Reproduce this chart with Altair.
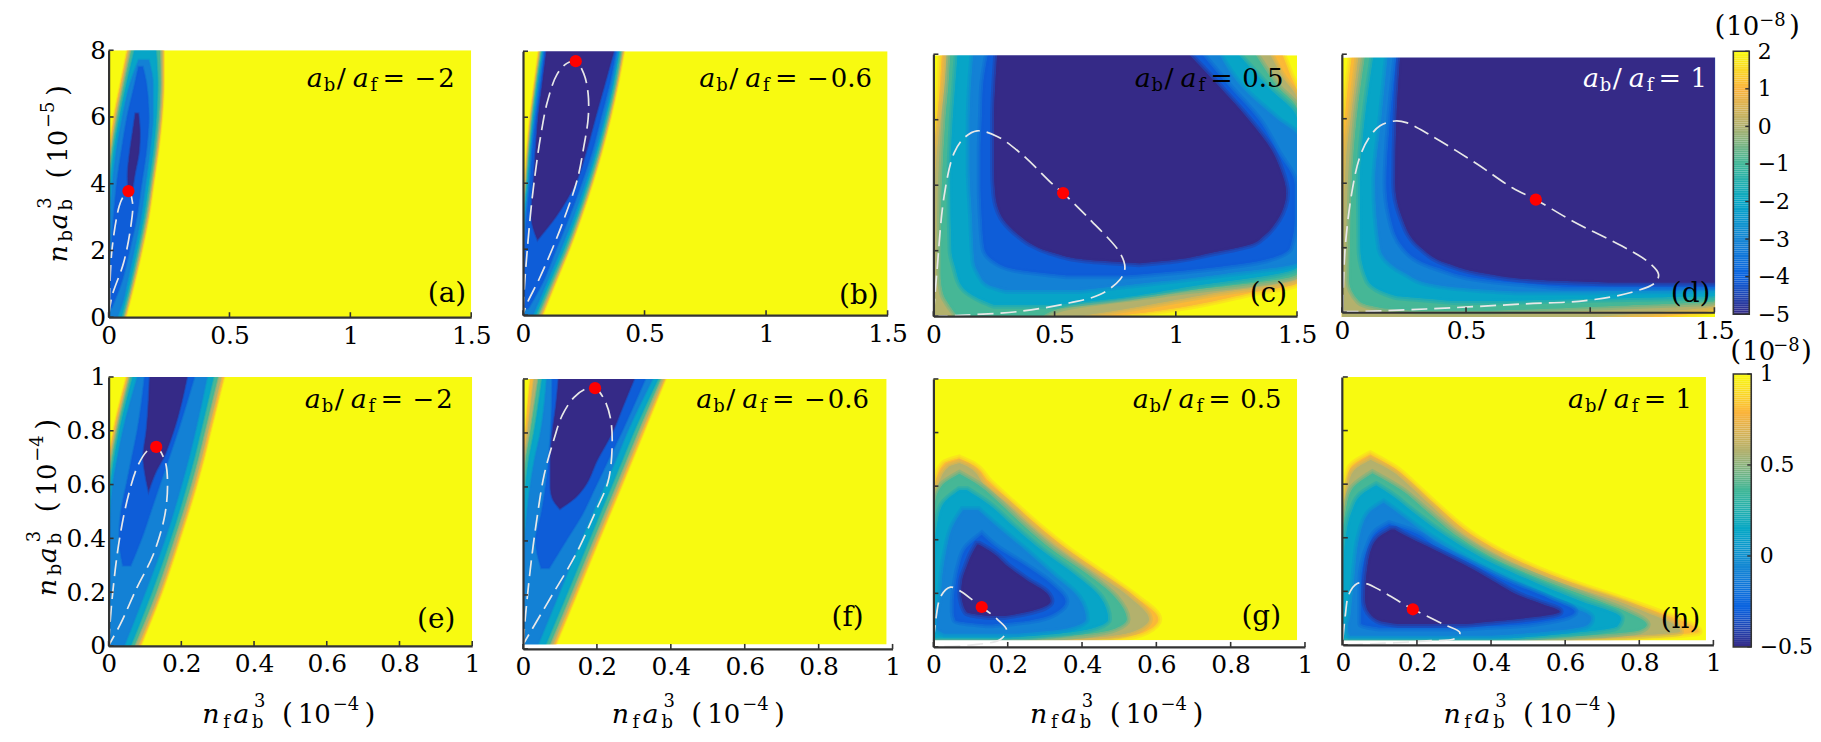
import altair as alt
import numpy as np
import pandas as pd

FILLS = [0.87, 0.72, 0.58, 0.42, 0.27, 0.13, 0.0]
STOPS = [0, 1/7, 2/7, 3/7, 4/7, 5/7, 6/7, 1]
COLORS = ["#352a87", "#0a62e0", "#1485d4", "#06a7c6", "#3fb798", "#b0b16f", "#fbb33b", "#f9fb12"]
YELLOW = "#f8fa10"

# contour tables: each contour is a list of (y, x_left, x_right), outermost first
A = [
 [(0,0,.07),(1,0,.105),(2,0,.137),(3,0,.165),(4,0,.185),(5,.005,.205),(6,.023,.22),(7,.05,.227),(8,.078,.227)],
 [(0,0,.065),(1,0,.1),(2,0,.132),(3,0,.16),(4,0,.18),(5,.01,.2),(6,.03,.215),(7,.057,.222),(8,.085,.222)],
 [(0,0,.06),(1,0,.094),(2,0,.125),(3,0,.153),(4,.003,.174),(5,.015,.193),(6,.037,.207),(7,.065,.214),(8,.095,.212)],
 [(0,0,.052),(1,0,.087),(2,0,.117),(3,.002,.145),(4,.008,.165),(5,.022,.184),(6,.046,.197),(7,.075,.202),(8,.108,.195)],
 [(0,0,.035),(.5,0,.06),(1,0,.075),(2,.002,.105),(3,.008,.133),(4,.017,.152),(5,.033,.17),(6,.058,.182),(7,.09,.182),(7.7,.125,.165)],
 [(.3,.005,.012),(1,.006,.05),(2,.012,.085),(3,.022,.115),(4,.035,.135),(5,.055,.155),(6,.078,.165),(7,.11,.155),(7.5,.125,.14)],
 [(3.7,.085,.095),(4.2,.08,.105),(5,.09,.125),(5.5,.1,.128),(6.1,.112,.122)],
]
B = [
 [(0,0,.079),(1,0,.134),(2,0,.19),(3,0,.24),(4,.008,.285),(5,.017,.325),(6,.03,.36),(7,.047,.39),(8,.065,.415)],
 [(0,0,.072),(1,0,.128),(2,0,.185),(3,0,.235),(4,.011,.28),(5,.021,.32),(6,.034,.355),(7,.051,.385),(8,.07,.41)],
 [(0,0,.062),(1,0,.12),(2,0,.178),(3,.003,.228),(4,.015,.274),(5,.025,.314),(6,.038,.349),(7,.055,.38),(8,.075,.404)],
 [(0,0,.052),(1,0,.11),(2,0,.168),(3,.006,.22),(4,.019,.265),(5,.03,.306),(6,.043,.341),(7,.06,.372),(8,.08,.396)],
 [(0,0,.04),(1,0,.097),(2,.002,.155),(3,.01,.208),(4,.024,.255),(5,.034,.297),(6,.048,.333),(7,.065,.365),(8,.085,.39)],
 [(.2,.003,.02),(1,.004,.08),(2,.008,.135),(3,.016,.19),(4,.03,.24),(5,.04,.285),(6,.054,.32),(7,.072,.355),(8,.09,.382)],
 [(2.3,.06,.06),(3,.035,.135),(4,.044,.215),(5,.053,.26),(6,.063,.297),(7,.08,.335),(8,.097,.373)],
]
C = [
 [(0,0,.75),(.3,0,1.04),(.7,0,1.3),(1.02,0,1.5),(4,0,1.5),(5,.003,1.5),(6,.015,1.5),(6.8,.025,1.5),(7.4,.03,1.47),(7.97,.035,1.44)],
 [(0,0,.6),(.3,0,.85),(.7,0,1.15),(1.15,0,1.5),(2,0,1.5),(3,.001,1.5),(4,.006,1.5),(5,.015,1.5),(6,.03,1.5),(6.6,.04,1.5),(7.3,.05,1.44),(7.97,.055,1.39)],
 [(0,.1,.45),(.3,.07,.55),(.7,.04,.95),(1.3,.03,1.5),(2,.03,1.5),(4,.035,1.5),(6,.05,1.5),(6.3,.053,1.5),(7,.062,1.42),(7.97,.07,1.33)],
 [(.35,.25,.5),(.5,.2,.7),(.9,.12,1.05),(1.5,.09,1.5),(2,.075,1.5),(4,.07,1.5),(6,.08,1.5),(7,.09,1.38),(7.97,.1,1.26)],
 [(.8,.3,.6),(1,.22,.85),(1.3,.19,1.2),(1.65,.17,1.5),(3,.16,1.5),(4.5,.15,1.5),(5.5,.15,1.5),(6,.15,1.42),(7,.155,1.27),(7.97,.165,1.18)],
 [(1.25,.55,.8),(1.45,.33,1.1),(1.7,.25,1.35),(2.1,.21,1.47),(3,.2,1.49),(4,.195,1.49),(5,.195,1.42),(6,.2,1.34),(7,.205,1.22),(7.97,.225,1.11)],
 [(1.62,.85,.85),(1.73,.63,1.0),(1.93,.5,1.14),(2.23,.4,1.32),(2.44,.36,1.36),(2.95,.29,1.42),(3.35,.265,1.445),(3.76,.255,1.455),(4.5,.25,1.43),(5,.25,1.4),(6,.25,1.3),(7,.255,1.18),(7.97,.263,1.057)],
]
D = [
 [(-.15,0,1.27),(-.05,0,1.4),(.1,0,1.5),(4,0,1.5),(5,.003,1.5),(6,.012,1.5),(7.9,.04,1.5)],
 [(-.15,0,1.0),(0,0,1.25),(.2,0,1.5),(1,0,1.5),(3,.007,1.5),(4,.013,1.5),(5,.02,1.5),(6,.036,1.5),(7.9,.067,1.5)],
 [(.05,.3,.6),(.1,.2,.8),(.2,.12,1.1),(.35,.07,1.5),(1,.03,1.5),(2,.033,1.5),(4,.04,1.5),(6,.06,1.5),(7.9,.093,1.5)],
 [(.35,.45,.6),(.45,.3,1.2),(.5,.22,1.5),(1,.105,1.5),(2,.075,1.5),(4,.073,1.5),(6,.093,1.5),(7.9,.127,1.5)],
 [(.65,.7,1.0),(.72,.55,1.5),(.9,.35,1.5),(1.2,.26,1.5),(2,.155,1.5),(4,.135,1.5),(6,.16,1.5),(7.9,.185,1.5)],
 [(.8,.9,1.5),(1,.6,1.5),(1.4,.38,1.5),(2,.25,1.5),(3,.195,1.5),(4,.18,1.5),(6,.195,1.5),(7.9,.22,1.5)],
 [(.92,1.1,1.5),(1,.8,1.5),(1.2,.58,1.5),(1.5,.43,1.5),(2,.32,1.5),(3,.24,1.5),(4,.215,1.5),(6,.22,1.5),(7.9,.235,1.5)],
]
E = [
 [(0,0,.087),(.2,0,.146),(.4,0,.196),(.6,0,.242),(.7,.002,.262),(.8,.014,.28),(1,.05,.317)],
 [(0,0,.08),(.2,0,.14),(.4,0,.19),(.6,0,.235),(.7,.005,.255),(.8,.019,.273),(1,.055,.31)],
 [(0,0,.07),(.2,0,.13),(.4,0,.18),(.6,.002,.226),(.7,.01,.246),(.8,.024,.264),(1,.06,.3)],
 [(0,0,.06),(.2,0,.118),(.4,0,.17),(.6,.006,.215),(.7,.016,.235),(.8,.03,.253),(1,.067,.288)],
 [(0,0,.042),(.2,0,.1),(.4,.003,.155),(.6,.012,.2),(.7,.025,.22),(.8,.04,.238),(1,.08,.27)],
 [(.3,.04,.06),(.4,.03,.09),(.5,.035,.115),(.6,.05,.14),(.7,.065,.165),(.8,.08,.19),(1,.1,.235)],
 [(.58,.11,.11),(.65,.1,.13),(.7,.096,.15),(.8,.105,.178),(1,.114,.215)],
]
F = [
 [(.016,0,.088),(.2,0,.144),(.4,0,.204),(.6,0,.265),(.7,0,.295),(.8,.006,.325),(1,.02,.385)],
 [(.016,0,.081),(.2,0,.137),(.4,0,.197),(.6,0,.258),(.7,.003,.288),(.8,.012,.318),(1,.03,.38)],
 [(.016,0,.072),(.2,0,.128),(.4,0,.188),(.6,.002,.249),(.7,.008,.279),(.8,.02,.309),(1,.042,.372)],
 [(.016,0,.061),(.2,0,.117),(.4,0,.177),(.6,.007,.238),(.7,.016,.268),(.8,.03,.298),(1,.052,.365)],
 [(.016,0,.04),(.2,0,.095),(.4,.005,.155),(.6,.02,.218),(.7,.032,.25),(.8,.048,.28),(1,.065,.35)],
 [(.3,.05,.07),(.4,.035,.115),(.5,.05,.16),(.6,.062,.195),(.7,.07,.23),(.8,.076,.265),(1,.08,.33)],
 [(.52,.1,.1),(.56,.08,.14),(.6,.075,.165),(.7,.075,.2),(.8,.08,.24),(.9,.09,.27),(1,.097,.3)],
]
G = [
 [(.025,0,.41),(.035,0,.5),(.06,0,.574),(.103,0,.605),(.183,0,.547),(.27,0,.458),(.356,0,.368),(.455,0,.279),(.54,0,.21),(.616,.006,.15),(.684,.029,.1),(.703,.069,.069)],
 [(.025,0,.34),(.04,0,.47),(.065,0,.55),(.103,0,.58),(.183,0,.53),(.27,0,.44),(.356,0,.35),(.455,0,.262),(.54,0,.195),(.6,.012,.14),(.67,.04,.095),(.685,.07,.07)],
 [(.03,0,.25),(.05,0,.42),(.07,0,.49),(.103,0,.52),(.183,0,.49),(.27,0,.415),(.356,0,.325),(.455,0,.24),(.54,.005,.175),(.6,.022,.125),(.645,.07,.07)],
 [(.035,0,.2),(.05,0,.34),(.075,0,.44),(.103,0,.47),(.183,0,.45),(.27,0,.38),(.356,.002,.295),(.455,.01,.21),(.53,.025,.15),(.585,.07,.09)],
 [(.05,.03,.22),(.07,.01,.36),(.103,.01,.41),(.183,.02,.39),(.27,.025,.32),(.356,.035,.25),(.455,.055,.165),(.51,.08,.12)],
 [(.085,.14,.16),(.1,.06,.26),(.13,.055,.33),(.17,.055,.355),(.23,.06,.32),(.3,.07,.25),(.37,.09,.17),(.418,.13,.13)],
 [(.115,.15,.19),(.13,.09,.25),(.17,.078,.315),(.2,.075,.305),(.25,.078,.25),(.3,.09,.2),(.35,.105,.16),(.381,.118,.122)],
]
H = [
 [(.017,0,.6),(.03,0,.78),(.05,0,.96),(.07,0,.944),(.12,0,.854),(.164,0,.764),(.226,0,.63),(.3,0,.495),(.399,0,.361),(.523,.003,.25),(.6,.01,.19),(.659,.02,.14),(.711,.074,.074)],
 [(.017,0,.55),(.03,0,.72),(.05,0,.91),(.07,0,.9),(.12,0,.82),(.164,0,.74),(.226,0,.6),(.3,0,.47),(.399,0,.34),(.523,.006,.235),(.6,.015,.175),(.65,.03,.13),(.69,.075,.075)],
 [(.02,0,.45),(.035,0,.65),(.055,0,.8),(.075,0,.82),(.12,0,.77),(.164,0,.69),(.226,0,.57),(.3,0,.44),(.399,0,.315),(.5,.008,.225),(.58,.025,.155),(.64,.08,.08)],
 [(.025,0,.45),(.045,0,.62),(.07,0,.74),(.1,0,.75),(.164,0,.64),(.226,0,.53),(.3,.002,.41),(.399,.008,.285),(.5,.025,.185),(.56,.05,.13),(.595,.09,.09)],
 [(.035,.02,.4),(.05,.015,.55),(.075,.015,.66),(.1,.02,.67),(.164,.025,.57),(.226,.03,.47),(.3,.035,.36),(.399,.045,.24),(.49,.07,.15),(.53,.11,.11)],
 [(.065,.1,.3),(.08,.05,.5),(.124,.05,.625),(.17,.05,.56),(.238,.05,.44),(.3,.055,.35),(.368,.07,.25),(.42,.09,.19),(.45,.125,.125)],
 [(.078,.15,.33),(.09,.1,.42),(.124,.07,.585),(.151,.062,.54),(.176,.06,.49),(.238,.062,.406),(.275,.065,.36),(.368,.08,.227),(.41,.105,.165),(.43,.13,.14)],
]

# white dashed curves
CURVE_A = [(.003,.4),(.014,2.03),(.044,3.33),(.062,3.63),(.082,3.78),(.099,3.43),(.092,2.73),(.062,1.63),(.014,.63),(0,.03)]
CURVE_B = [(0,.08),(.008,1.09),(.03,3),(.045,4),(.072,5.4),(.1,6.46),(.14,7.3),(.182,7.64),(.217,7.7),(.25,7.32),(.268,6.71),(.268,5.96),(.25,5.1),(.223,4.1),(.168,2.9),(.12,2),(.066,1.09),(.018,.38),(0,.03)]
CURVE_C = [(0,.05),(.014,1.32),(.044,3.66),(.085,4.98),(.126,5.44),(.18,5.66),(.263,5.49),(.359,4.98),(.495,4.01),(.535,3.76),(.646,2.95),(.77,1.93),(.79,1.47),(.77,1.12),(.687,.66),(.564,.41),(.359,.15),(.11,.03),(0,0)]
CURVE_D = [(.004,.05),(.013,1.95),(.04,3.7),(.073,4.83),(.113,5.45),(.154,5.78),(.214,5.93),(.26,5.88),(.354,5.5),(.54,4.62),(.688,3.85),(.781,3.49),(.928,2.83),(1.128,2.05),(1.228,1.59),(1.275,1.18),(1.262,.92),(1.168,.62),(.981,.36),(.741,.26),(.34,.1),(.06,.02),(.004,.02)]
CURVE_E = [(0,.005),(.009,.167),(.029,.39),(.055,.563),(.082,.675),(.11,.73),(.131,.74),(.155,.687),(.162,.613),(.155,.489),(.123,.34),(.078,.217),(.032,.08),(.002,.006)]
CURVE_F = [(0,.016),(.007,.127),(.021,.31),(.039,.496),(.057,.643),(.084,.778),(.106,.865),(.138,.932),(.169,.963),(.195,.966),(.219,.926),(.237,.852),(.241,.742),(.23,.619),(.196,.508),(.142,.348),(.079,.2),(.021,.065),(0,.016)]
CURVE_G = [(0,.022),(.006,.097),(.02,.189),(.046,.223),(.073,.208),(.109,.171),(.13,.149),(.172,.103),(.197,.063),(.18,.028),(.1,.007),(.002,0)]
CURVE_H = [(0,.02),(.007,.114),(.016,.188),(.039,.229),(.065,.228),(.101,.204),(.173,.145),(.189,.133),(.272,.077),(.316,.046),(.303,.024),(.227,.015),(.047,.002),(0,0)]

RED = [(.082,3.78),(.217,7.7),(.535,3.76),(.781,3.49),(.131,.74),(.195,.966),(.13,.149),(.189,.133)]

XT_TOP = [0, .5, 1, 1.5]
XT_BOT = [0, .2, .4, .6, .8, 1]
YT_TOP = [0, 2, 4, 6, 8]
YT_BOT = [0, .2, .4, .6, .8, 1]
CB_TOP = [-5, -4, -3, -2, -1, 0, 1, 2]
CB_BOT = [-.5, 0, .5, 1]

FONT = "DejaVu Serif"
DARK = "#333333"
LS = 25
BIG, NUM, SMALL, PAREN = 27, 26, 18, 28
ONE = alt.Data(values=[{"k": 0}])
tscale = alt.Scale(domain=STOPS, range=COLORS, interpolate="rgb")


def T(text, x, y, size=NUM, style="normal", color="black", angle=0, align="left"):
    return alt.Chart(ONE).mark_text(
        font=FONT, fontSize=size, fontStyle=style, color=color, angle=angle,
        align=align, baseline="alphabetic",
    ).encode(x=alt.value(x), y=alt.value(y), text=alt.value(text))


def ratio_label(val, x, y, color="black", dneg=110, dval=135):
    parts = [T("a", x, y, BIG, "italic", color), T("b", x + 17, y + 4, SMALL, "normal", color),
             T("/", x + 30, y, BIG, "normal", color), T("a", x + 46, y, BIG, "italic", color),
             T("f", x + 64, y + 4, SMALL, "normal", color), T("=", x + 76, y, BIG, "normal", color)]
    if val.startswith("-"):
        parts.append(T("\u2212", x + dneg - 2, y, NUM, "normal", color))
        parts.append(T(val[1:], x + dval - 3, y, NUM, "normal", color))
    else:
        parts.append(T(val, x + 108, y, NUM, "normal", color))
    return parts


def xlabel(x, y):
    return [T("n", x, y, BIG, "italic"), T("f", x + 21, y + 5, SMALL), T("a", x + 31, y, BIG, "italic"),
            T("b", x + 50, y + 5, SMALL), T("3", x + 52, y - 16, SMALL), T("(", x + 80, y, PAREN),
            T("10", x + 96, y, NUM), T("\u22124", x + 131, y - 13, SMALL), T(")", x + 163, y, PAREN)]


def ylabel(x, y, exp):
    a = 270
    return [T("n", x, y, BIG, "italic", angle=a), T("b", x + 5, y - 21, SMALL, angle=a),
            T("a", x, y - 33, BIG, "italic", angle=a), T("b", x + 5, y - 52, SMALL, angle=a),
            T("3", x - 16, y - 54, SMALL, angle=a), T("(", x, y - 84, PAREN, angle=a),
            T("10", x, y - 100, NUM, angle=a), T("\u2212" + exp, x - 13, y - 135, SMALL, angle=a),
            T(")", x, y - 167, PAREN, angle=a)]


def panel(contours, curve, red, xdom, ydom, xrng, yrng, bg, xticks, yticks, W, Hh, ylabels, texts, blur):
    xs = alt.Scale(domain=xdom, range=xrng, nice=False, zero=False)
    ys = alt.Scale(domain=ydom, range=yrng, nice=False, zero=False)
    bgdf = pd.DataFrame([{"x0": bg[0], "x1": bg[1], "y0": bg[2], "y1": bg[3]}])
    xax = alt.Axis(values=xticks, format="~g", title=None, tickSize=0, grid=False, domainColor=DARK, domainWidth=2.2,
                   labelFont=FONT, labelFontSize=LS, labelColor="black", labelPadding=6, labelAngle=0,
                   labelOverlap=False, labelFlush=False, labelBound=False, offset=yrng[0] - Hh, zindex=1)
    yax = alt.Axis(values=yticks, format="~g", title=None, tickSize=0, grid=False, domainColor=DARK, domainWidth=2.2,
                   labels=ylabels, labelFont=FONT, labelFontSize=LS, labelColor="black", labelPadding=3,
                   labelOverlap=False, labelFlush=False, labelBound=False, zindex=1)
    X = lambda f: alt.X(f, scale=xs, axis=xax)
    Y = lambda f: alt.Y(f, scale=ys, axis=yax)
    layers = [alt.Chart(bgdf).mark_rect(color=YELLOW).encode(x=X("x0:Q"), x2="x1:Q", y=Y("y0:Q"), y2="y1:Q")]
    for fill, rows in zip(FILLS, contours):
        df = pd.DataFrame(rows, columns=["y", "l", "r"])
        df["t"] = fill
        for sw, so in ((blur, .3), (blur / 2, .4)):
            layers.append(alt.Chart(df).mark_area(orient="horizontal", interpolate="monotone",
                                                  strokeWidth=sw, strokeOpacity=so, clip=True).encode(
                y=Y("y:Q"), x=X("l:Q"), x2="r:Q",
                fill=alt.Fill("t:Q", scale=tscale, legend=None),
                stroke=alt.Stroke("t:Q", scale=tscale, legend=None)))
    # white masks that trim the soft edges to the picture's limits
    mask = dict(color="white")
    layers.append(alt.Chart(bgdf).mark_rect(**mask).encode(
        x=X("x1:Q"), x2=alt.value(xrng[1] + 8), y=alt.value(0), y2=alt.value(Hh)))
    layers.append(alt.Chart(bgdf).mark_rect(**mask).encode(
        y=Y("y1:Q"), y2=alt.value(max(yrng[1] - 8, -8)), x=alt.value(0), x2=alt.value(xrng[1] + 8)))
    layers.append(alt.Chart(bgdf).mark_rect(**mask).encode(
        y=Y("y0:Q"), y2=alt.value(Hh + 8), x=alt.value(0), x2=alt.value(xrng[1] + 8)))
    cdf = pd.DataFrame(curve, columns=["x", "y"])
    cdf["o"] = range(len(cdf))
    layers.append(alt.Chart(cdf).mark_line(color="#e8e8e8", strokeWidth=1.7, strokeDash=[16, 7],
                                           interpolate="catmull-rom").encode(
        x=X("x:Q"), y=Y("y:Q"), order="o:Q"))
    rdf = pd.DataFrame([red], columns=["x", "y"])
    layers.append(alt.Chart(rdf).mark_circle(color="#ff0000", opacity=1, size=150).encode(x=X("x:Q"), y=Y("y:Q")))
    tick = dict(color=DARK, strokeWidth=1.6)
    layers.append(alt.Chart(pd.DataFrame({"v": xticks})).mark_rule(**tick).encode(
        x=X("v:Q"), y=alt.value(yrng[0]), y2=alt.value(yrng[0] - 5)))
    layers.append(alt.Chart(pd.DataFrame({"v": yticks})).mark_rule(**tick).encode(
        y=Y("v:Q"), x=alt.value(xrng[0]), x2=alt.value(xrng[0] + 5)))
    layers += texts
    return alt.layer(*layers).properties(width=W, height=Hh)


def colorbar(low, high, ticks, w, Hh, yrng, texts):
    ys = alt.Scale(domain=[low, high], range=yrng, nice=False, zero=False)
    edges = np.linspace(low, high, 141)
    df = pd.DataFrame({"v0": edges[:-1], "v1": edges[1:]})
    df["t"] = (df.v0 + (high - low) / 280 - low) / (high - low)
    ax = alt.Axis(values=ticks, format="~g", orient="right", title=None, tickSize=0, domain=False, grid=False,
                  labelFont=FONT, labelFontSize=22, labelColor="black", labelPadding=8,
                  labelOverlap=False, labelFlush=False, labelBound=False)
    Y = lambda f: alt.Y(f, scale=ys, axis=ax)
    bar = alt.Chart(df).mark_rect(stroke=None).encode(
        y=Y("v0:Q"), y2="v1:Q", x=alt.value(0), x2=alt.value(w),
        color=alt.Color("t:Q", scale=tscale, legend=None))
    frame = alt.Chart(pd.DataFrame([{"a": low, "b": high}])).mark_rect(fill=None, stroke=DARK, strokeWidth=1.6).encode(
        y=Y("a:Q"), y2="b:Q", x=alt.value(0), x2=alt.value(w))
    tk = alt.Chart(pd.DataFrame({"v": ticks})).mark_rule(color=DARK, strokeWidth=1.4).encode(
        y=Y("v:Q"), x=alt.value(w - 4), x2=alt.value(w))
    return alt.layer(bar, frame, tk, *texts).properties(width=w, height=Hh)


H1, H2 = 268, 276
W1, W2, W3, W4 = 416, 412, 410, 393
TX, BX = [0, 1.5], [0, 1]
TY, BY = [0, 8], [0, 1]
THIN, WIDE = 3, 8

a = panel(A, CURVE_A, RED[0], TX, TY, [0, 364], [268, 0], (0, 1.5, 0, 8), XT_TOP, YT_TOP, W1, H1, True,
          ratio_label("-2", 199, 37) + [T("(a)", 359, 253, PAREN, align="right")] + ylabel(66 - 108, 263 - 50, "5"), THIN)
b = panel(B, CURVE_B, RED[1], TX, TY, [0, 366], [266, 1], (0, 1.5, 0, 8), XT_TOP, YT_TOP, W2, H1, False,
          ratio_label("-0.6", 177, 37) + [T("(b)", 357, 255, PAREN, align="right")], THIN)
c = panel(C, CURVE_C, RED[2], TX, TY, [0, 365], [267, 4], (0, 1.5, 0, 7.97), XT_TOP, YT_TOP, W3, H1, False,
          ratio_label("0.5", 202, 37) + [T("(c)", 355, 253, PAREN, align="right")], WIDE)
d = panel(D, CURVE_D, RED[3], TX, TY, [0, 374], [263, 4], (0, 1.503, -.15, 7.9), XT_TOP, YT_TOP, W4, H1, False,
          ratio_label("1", 242, 37, color="white") + [T("(d)", 370, 253, PAREN, align="right")], WIDE)
e = panel(E, CURVE_E, RED[4], BX, BY, [0, 365], [273, 3], (0, 1, 0, 1), XT_BOT, YT_BOT, W1, H2, True,
          ratio_label("-2", 197, 34) + [T("(e)", 348, 255, PAREN, align="right")] + xlabel(202 - 108, 350)
          + ylabel(55 - 108, 598 - 375, "4"), THIN)
f = panel(F, CURVE_F, RED[5], BX, BY, [0, 371], [276, 5], (0, .984, .016, 1), XT_BOT, YT_BOT, W2, H2, False,
          ratio_label("-0.6", 174, 34) + [T("(f)", 342, 253, PAREN, align="right")] + xlabel(89, 350), THIN)
g = panel(G, CURVE_G, RED[6], BX, BY, [0, 373], [274, 5], (0, .979, .025, 1), XT_BOT, YT_BOT, W3, H2, False,
          ratio_label("0.5", 200, 34) + [T("(g)", 349, 252, PAREN, align="right")] + xlabel(97, 350), WIDE)
h = panel(H, CURVE_H, RED[7], BX, BY, [1, 373], [272, 3], (0, .98, .017, 1), XT_BOT, YT_BOT, W4, H2, False,
          ratio_label("1", 227, 34) + [T("(h)", 360, 255, PAREN, align="right")] + xlabel(102, 350), WIDE)

cb1 = colorbar(-5, 2, CB_TOP, 16, H1, [265, 1],
               [T("(", -19, -15, PAREN), T("10", -7, -15, NUM), T("\u22128", 26, -24, SMALL), T(")", 56, -15, PAREN)])
cb2 = colorbar(-.5, 1, CB_BOT, 18, H2, [274, 0],
               [T("(", -3, -14, PAREN), T("10", 9, -14, NUM), T("\u22128", 40, -23, SMALL), T(")", 68, -14, PAREN)])

chart = alt.concat(a, b, c, d, cb1, e, f, g, h, cb2, columns=5, spacing={"row": 57, "column": 0},
                   bounds="flush", align="each").properties(
    padding={"left": 18, "top": 3, "right": 0, "bottom": 0}
).configure_view(stroke=None).configure_axis(labelFontWeight="normal")

chart.save("out.html", embed_options={"renderer": "svg", "actions": False})
